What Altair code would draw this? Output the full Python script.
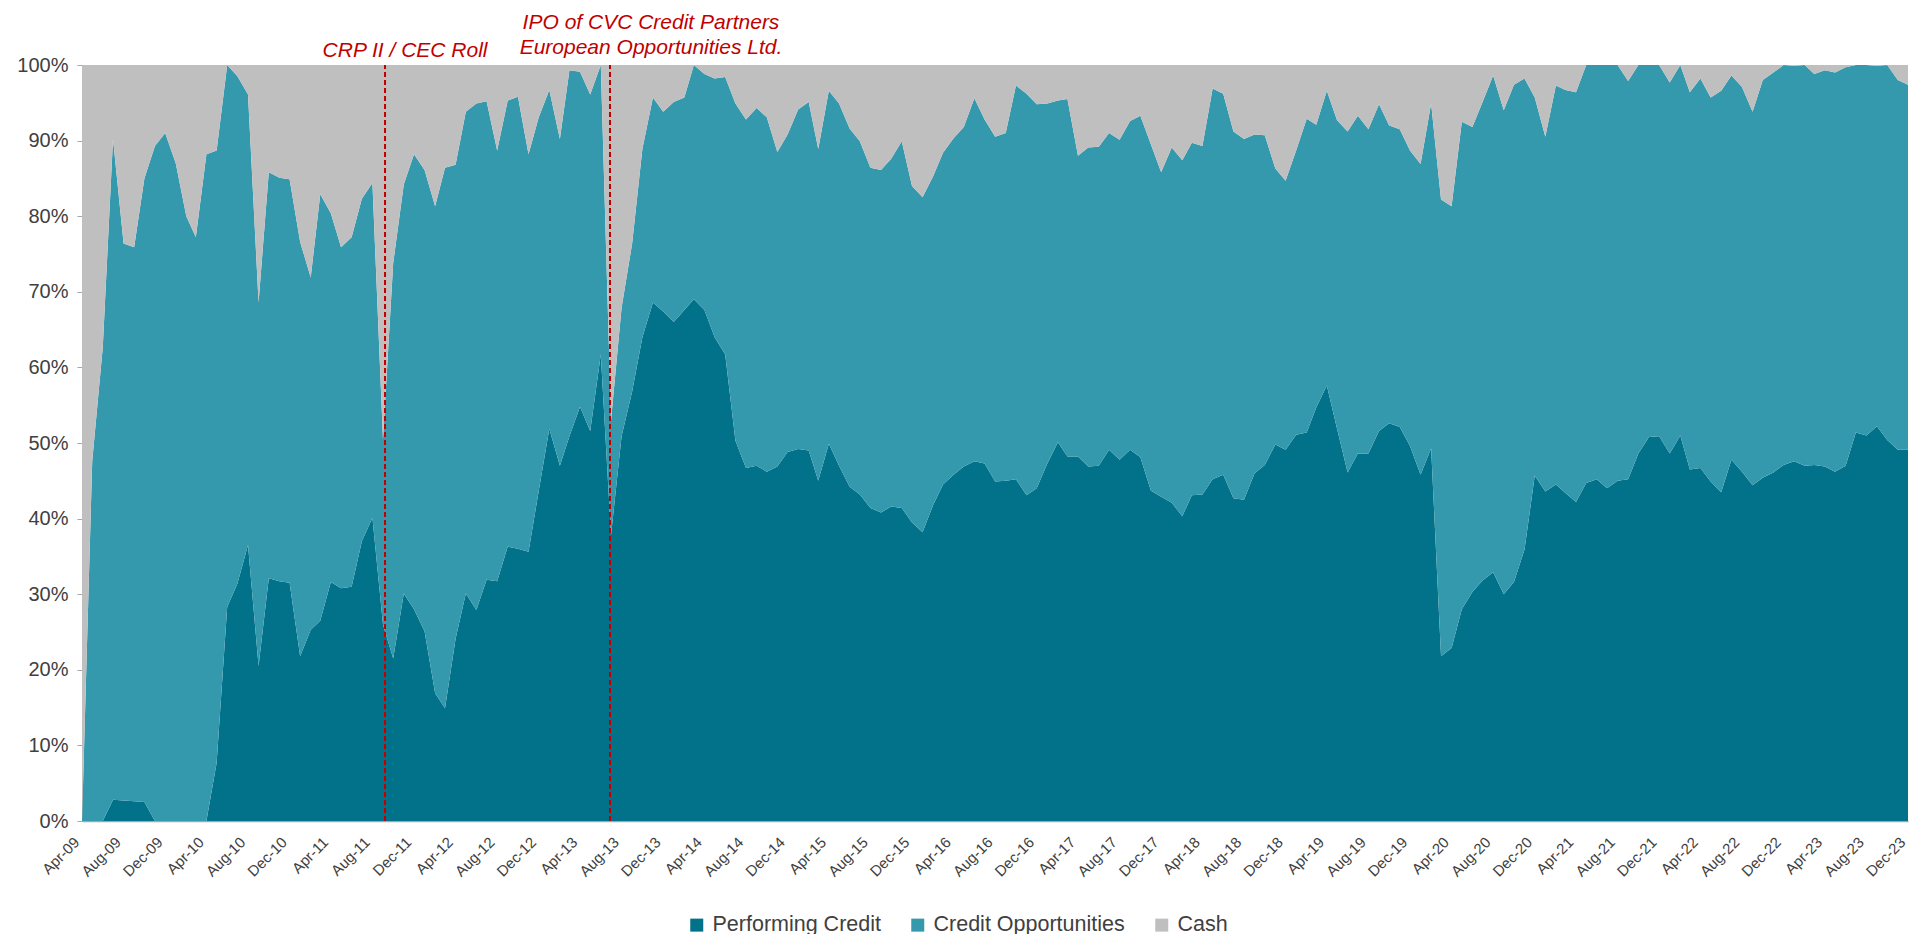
import altair as alt
import pandas as pd

# Monthly observations, Apr-09 .. Dec-23 (177 months)
dates = pd.date_range("2009-04-01", "2023-12-01", freq="MS")

# Share of Performing Credit (%)
performing_credit = [
    0, 0, 0, 2.8, 2.7, 2.6, 2.5, 0, 0, 0, 0, 0, 0, 7.7, 28.3, 31.4, 36.5, 20.5, 32.1, 31.7,
    31.5, 21.8, 25.3, 26.5, 31.6, 30.8, 31.0, 37.0, 40.1, 26.0, 21.5, 30.1, 28.0, 25.1, 16.9, 14.9, 24.1, 30.1, 27.9, 31.9,
    31.7, 36.3, 36.0, 35.6, 43.7, 51.9, 47.0, 50.9, 54.8, 51.6, 61.7, 37.8, 50.9, 56.8, 64.0, 68.6, 67.4, 66.0, 67.6, 69.0,
    67.6, 64.0, 61.7, 50.3, 46.7, 47.0, 46.2, 46.9, 48.8, 49.2, 49.0, 45.0, 49.9, 47.0, 44.2, 43.2, 41.4, 40.8, 41.6, 41.4,
    39.5, 38.2, 41.8, 44.5, 45.8, 46.9, 47.6, 47.3, 44.9, 45.0, 45.2, 43.1, 44.0, 47.3, 50.1, 48.2, 48.2, 46.9, 47.0, 49.1,
    47.8, 49.1, 48.1, 43.7, 42.9, 42.1, 40.3, 43.1, 43.2, 45.2, 45.8, 42.7, 42.5, 46.0, 47.1, 49.8, 49.1, 51.1, 51.4, 54.7,
    57.6, 51.9, 46.1, 48.6, 48.6, 51.6, 52.6, 52.1, 49.6, 45.8, 49.3, 21.8, 22.9, 28.0, 30.3, 31.8, 32.9, 30.0, 31.6, 35.9,
    45.7, 43.6, 44.5, 43.4, 42.2, 44.7, 45.2, 44.0, 45.0, 45.2, 48.6, 50.8, 50.9, 48.6, 51.0, 46.5, 46.7, 44.9, 43.5, 47.8,
    46.2, 44.4, 45.4, 46.1, 47.1, 47.6, 47.0, 47.1, 46.9, 46.2, 47.0, 51.4, 51.0, 52.2, 50.4, 49.1, 49.1,
]

# Top of the Credit Opportunities band (Performing + Opportunities, %); the rest is Cash
invested_total = [
    0, 47.6, 62.7, 90.2, 76.4, 75.9, 85.0, 89.3, 91.0, 87.0, 80.0, 77.2, 88.2, 88.7, 100, 98.5, 96.1, 68.6, 85.8, 85.1,
    84.9, 76.6, 71.9, 82.9, 80.4, 75.9, 77.2, 82.3, 84.4, 50.5, 73.8, 84.2, 88.2, 86.1, 81.3, 86.4, 86.8, 93.8, 94.9, 95.2,
    88.7, 95.3, 95.8, 88.2, 93.1, 96.7, 90.2, 99.3, 99.1, 96.1, 100, 53.0, 67.9, 76.4, 88.9, 95.7, 93.8, 95.1, 95.7, 100,
    98.8, 98.2, 98.4, 94.9, 92.8, 94.3, 93.1, 88.5, 90.8, 94.1, 95.1, 88.9, 96.6, 94.9, 91.6, 89.9, 86.4, 86.1, 87.6, 89.9,
    84.0, 82.5, 85.3, 88.4, 90.3, 91.8, 95.6, 92.8, 90.5, 91.0, 97.3, 96.2, 94.8, 94.9, 95.3, 95.5, 88.0, 89.1, 89.2, 91.0,
    90.1, 92.6, 93.3, 89.5, 85.8, 89.1, 87.4, 89.7, 89.3, 96.9, 96.2, 91.2, 90.2, 90.8, 90.7, 86.3, 84.7, 88.7, 92.9, 92.1,
    96.6, 92.7, 91.2, 93.3, 91.5, 94.8, 92.0, 91.5, 88.7, 86.9, 94.9, 82.2, 81.3, 92.5, 91.8, 95.1, 98.6, 94.0, 97.4, 98.2,
    95.7, 90.5, 97.3, 96.7, 96.4, 100, 100, 100, 100, 97.9, 100, 100, 100, 97.7, 100, 96.4, 98.2, 95.7, 96.6, 98.6,
    97.1, 93.8, 98.0, 99.0, 100, 99.9, 100, 98.8, 99.3, 99.0, 99.7, 100, 100, 99.9, 100, 98.0, 97.4,
]

series_names = ["Performing Credit", "Credit Opportunities", "Cash"]
series_colors = ["#02718A", "#3599AE", "#BFBFBF"]

y_ticks = [0, 10, 20, 30, 40, 50, 60, 70, 80, 90, 100]
x_tick_dates = pd.date_range("2009-04-01", "2023-12-01", freq="4MS")

event_labels = ["CRP II / CEC Roll", "IPO of CVC Credit Partners"]
event_dates = ["2011-09-07", "2013-06-28"]
ipo_second_line = "European Opportunities Ltd."

rows = []
for d, pc, top in zip(dates, performing_credit, invested_total):
    rows.append({"date": d, "series": series_names[0], "lower": 0, "upper": pc})
    rows.append({"date": d, "series": series_names[1], "lower": pc, "upper": top})
    rows.append({"date": d, "series": series_names[2], "lower": top, "upper": 100})
df = pd.DataFrame(rows)

events = pd.DataFrame({"date": pd.to_datetime(event_dates), "label": event_labels})

FONT = "Liberation Sans"
TXT = "#404040"
RED = "#C00000"

x_values = [alt.DateTime(year=int(t.year), month=int(t.month), date=1) for t in x_tick_dates]

areas = alt.Chart(df).mark_area(interpolate="linear").encode(
    x=alt.X(
        "date:T",
        title=None,
        axis=alt.Axis(
            values=x_values, format="%b-%y", labelAngle=-45, labelAlign="right",
            labelBaseline="bottom", labelFontSize=15,
            labelFont=FONT, labelColor=TXT, ticks=False, domainColor="#A6A6A6",
            domainWidth=1.5, labelOverlap=False, labelFlush=False, labelPadding=24, grid=False,
        ),
    ),
    y=alt.Y(
        "upper:Q",
        title=None,
        scale=alt.Scale(domain=[0, 100], nice=False),
        axis=alt.Axis(
            values=y_ticks, labelExpr="datum.value + '%'", labelFontSize=20, labelFont=FONT,
            labelColor=TXT, tickColor="#A6A6A6", tickSize=5, domainColor="#A6A6A6",
            grid=False, labelPadding=9,
        ),
    ),
    y2="lower:Q",
    color=alt.Color(
        "series:N",
        scale=alt.Scale(domain=series_names, range=series_colors),
        legend=alt.Legend(
            title=None, orient="none", direction="horizontal", legendX=604, legendY=849,
            symbolType="square", symbolSize=169, symbolStrokeWidth=0, labelFontSize=21.5,
            labelFont=FONT, labelColor=TXT, columnPadding=26, labelOffset=5, labelLimit=0,
        ),
    ),
)

rules = alt.Chart(events).mark_rule(color=RED, strokeDash=[5, 3], strokeWidth=2).encode(
    x="date:T", y=alt.datum(0), y2=alt.datum(100)
)

crp_text = alt.Chart(events.iloc[[0]]).mark_text(
    font=FONT, fontSize=21, fontStyle="italic", color=RED, align="center",
    baseline="middle", dx=20, y=-14,
).encode(x="date:T", text="label:N")

ipo_text1 = alt.Chart(events.iloc[[1]]).mark_text(
    font=FONT, fontSize=21, fontStyle="italic", color=RED, align="center",
    baseline="middle", dx=41, y=-42,
).encode(x="date:T", text="label:N")

ipo_text2 = alt.Chart(events.iloc[[1]]).mark_text(
    font=FONT, fontSize=21, fontStyle="italic", color=RED, align="center",
    baseline="middle", dx=41, y=-17,
).encode(x="date:T", text=alt.value(ipo_second_line))

chart = alt.layer(areas, rules, crp_text, ipo_text1, ipo_text2).properties(
    width=1826,
    height=756,
    autosize="none",
    padding={"left": 74, "top": 57, "right": 2, "bottom": 125},
).configure_view(strokeWidth=0)

chart.save("out.html", embed_options={"renderer": "svg", "actions": False})
